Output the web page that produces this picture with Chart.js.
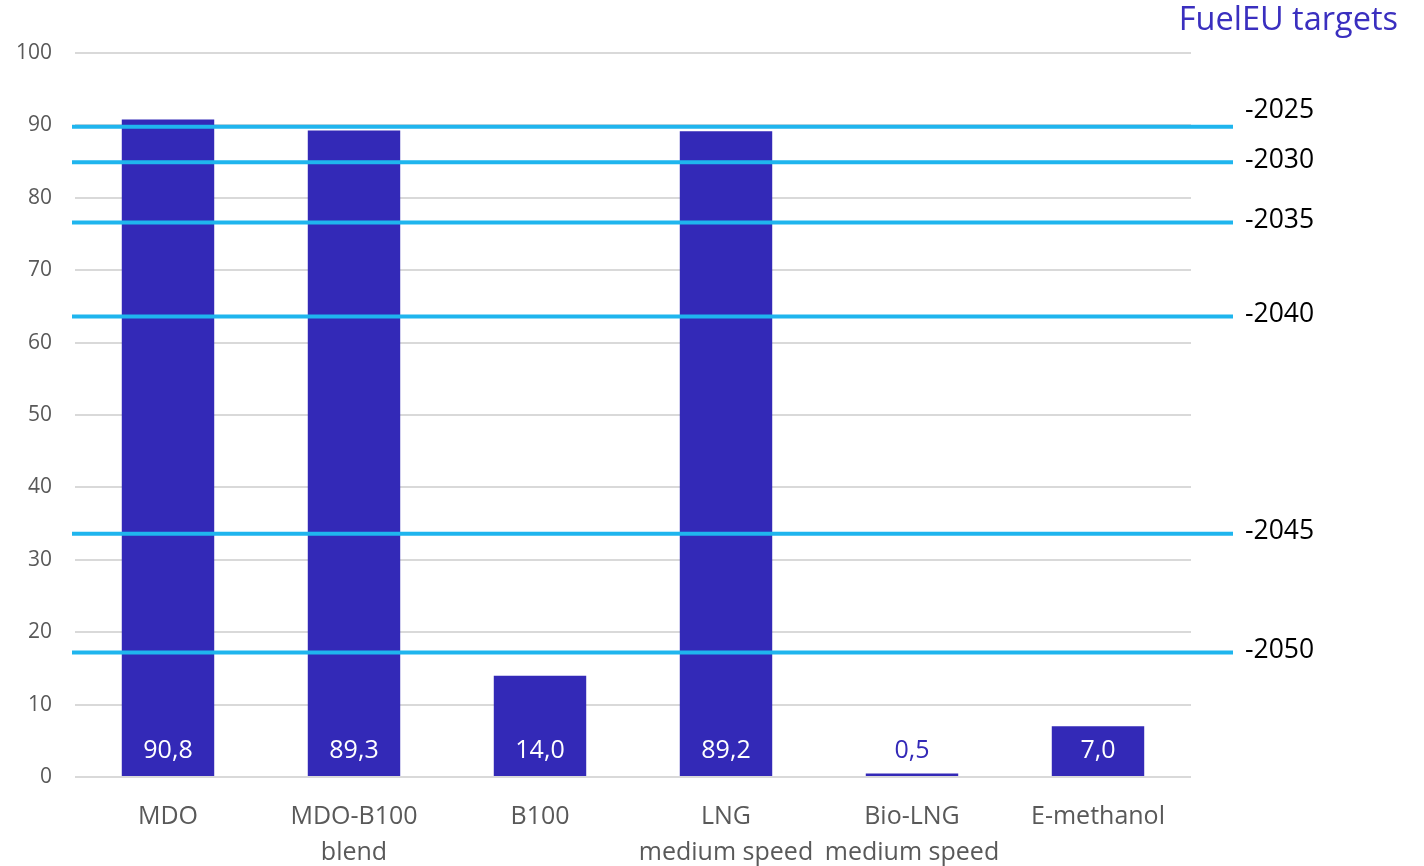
<!DOCTYPE html>
<html>
<head>
<meta charset="utf-8">
<script src="https://cdn.jsdelivr.net/npm/chart.js@4"></script>
<style>
  html, body { margin: 0; padding: 0; background: #ffffff; }
  #wrap { width: 1424px; height: 866px; }
</style>
</head>
<body>
<div id="wrap"><canvas id="c" width="1424" height="866"></canvas></div>
<script>
const categories = [["MDO"], ["MDO-B100", "blend"], ["B100"], ["LNG", "medium speed"], ["Bio-LNG", "medium speed"], ["E-methanol"]];
const values = [90.8, 89.3, 14.0, 89.2, 0.5, 7.0];
const targetLabels = ["-2025", "-2030", "-2035", "-2040", "-2045", "-2050"];
const targetValues = [89.8, 84.9, 76.6, 63.6, 33.6, 17.2];
const yTickValues = [0, 10, 20, 30, 40, 50, 60, 70, 80, 90, 100];
const titleText = "FuelEU targets";

const BAR_COLOR = "#3329B7";
const LINE_COLOR = "#1FB5EE";
const FONT = "'Open Sans', 'Noto Sans', sans-serif";

const overlay = {
  id: "overlay",
  afterDatasetsDraw(chart) {
    const ctx = chart.ctx;
    const y = chart.scales.y;
    const ca = chart.chartArea;
    const meta = chart.getDatasetMeta(0);
    // value labels
    ctx.save();
    ctx.font = "25px " + FONT;
    ctx.textAlign = "center";
    ctx.textBaseline = "middle";
    const y0 = y.getPixelForValue(0);
    meta.data.forEach((bar, i) => {
      const v = values[i];
      const labelY = y0 - 26;
      ctx.fillStyle = (bar.y < labelY - 14) ? "#ffffff" : BAR_COLOR;
      ctx.fillText(v.toFixed(1).replace(".", ","), bar.x, labelY);
    });
    ctx.restore();
    // target lines
    ctx.save();
    ctx.strokeStyle = LINE_COLOR;
    ctx.lineWidth = 4;
    ctx.font = "26.5px " + FONT;
    ctx.fillStyle = "#000000";
    ctx.textAlign = "left";
    ctx.textBaseline = "middle";
    targetValues.forEach((tv, i) => {
      const py = y.getPixelForValue(tv);
      ctx.beginPath();
      ctx.moveTo(ca.left - 3, py);
      ctx.lineTo(ca.right + 42, py);
      ctx.stroke();
      let ly = py - 2;
      if (i + 1 < targetValues.length) {
        const nextY = y.getPixelForValue(targetValues[i + 1]) - 2;
        if (nextY - ly < 45) ly = nextY - 50;
      }
      ctx.fillText(targetLabels[i], ca.right + 54, ly);
    });
    ctx.restore();
    // title
    ctx.save();
    ctx.font = "32.5px " + FONT;
    ctx.fillStyle = "#3A2FBF";
    ctx.textAlign = "right";
    ctx.textBaseline = "middle";
    ctx.fillText(titleText, 1398, 21);
    ctx.restore();
  }
};

new Chart(document.getElementById("c"), {
  type: "bar",
  data: {
    labels: categories,
    datasets: [{
      data: values,
      backgroundColor: BAR_COLOR,
      borderWidth: 0,
      categoryPercentage: 1.0,
      barPercentage: 0.497
    }]
  },
  options: {
    responsive: false,
    animation: false,
    events: [],
    layout: { padding: { left: 0, right: 233, top: 53, bottom: 0 } },
    plugins: { legend: { display: false }, tooltip: { enabled: false } },
    scales: {
      x: {
        grid: { display: false },
        border: { display: false },
        ticks: {
          color: "#595959",
          font: { family: FONT, size: 25, lineHeight: 1.44 },
          padding: 14,
          maxRotation: 0,
          autoSkip: false
        },
        afterFit(scale) { scale.height = 89; }
      },
      y: {
        min: 0,
        max: 100,
        afterBuildTicks(scale) { scale.ticks = yTickValues.map(v => ({ value: v })); },
        grid: { color: "#D9D9D9", lineWidth: 2, drawTicks: false },
        border: { display: false },
        ticks: {
          color: "#595959",
          font: { family: FONT, size: 21 },
          padding: 23
        },
        afterFit(scale) { scale.width = 75; }
      }
    }
  },
  plugins: [overlay]
});
</script>
</body>
</html>
